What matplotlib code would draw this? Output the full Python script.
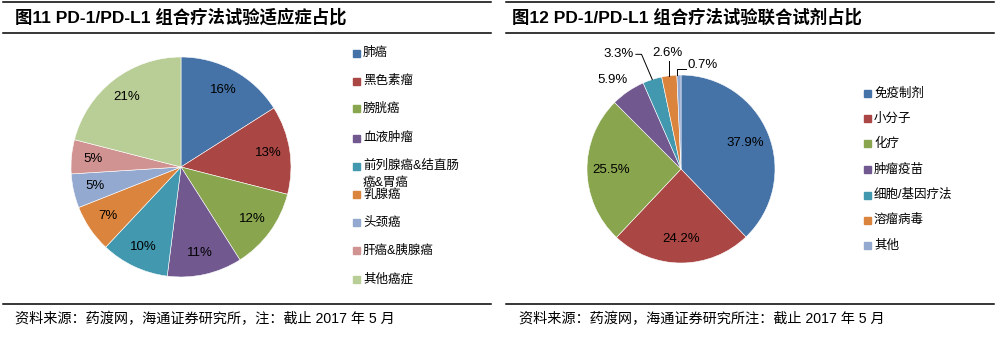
import matplotlib
matplotlib.use("Agg")
import matplotlib.pyplot as plt
import numpy as np
from matplotlib.lines import Line2D
from matplotlib.patches import Rectangle

W, H = 1005, 341

CN = ["Liberation Sans", "Noto Sans CJK SC"]
NUM = ["Liberation Sans"]

# 图11 适应症占比
indications = ["肺癌", "黑色素瘤", "膀胱癌", "血液肿瘤", "前列腺癌&结直肠\n癌&胃癌",
               "乳腺癌", "头颈癌", "肝癌&胰腺癌", "其他癌症"]
indication_pct = [16, 13, 12, 11, 10, 7, 5, 5, 21]

# 图12 联合试剂占比
combos = ["免疫制剂", "小分子", "化疗", "肿瘤疫苗", "细胞/基因疗法", "溶瘤病毒", "其他"]
combo_pct = [37.9, 24.2, 25.5, 5.9, 3.3, 2.6, 0.7]

colors = ["#4572A7", "#AA4643", "#89A54E", "#71588F", "#4198AF",
          "#DB843D", "#93A9CF", "#D19392", "#B9CD96"]


def fx(x):
    return x / W


def fy(y):
    return 1 - y / H


def hline(fig, x0, x1, y):
    fig.add_artist(Line2D([fx(x0), fx(x1)], [fy(y), fy(y)], color="black", lw=1.1))


def pie_axes(fig, cx, cy, r):
    ax = fig.add_axes([fx(cx - r), fy(cy + r), 2 * r / W, 2 * r / H])
    ax.axis("off")
    return ax


def fix_limits(ax):
    # pie() pads the limits to +-1.25, pull them back to the unit circle
    ax.set_xlim(-1, 1)
    ax.set_ylim(-1, 1)
    ax.set_aspect("equal")


def mid_point(wedge, dist):
    ang = np.deg2rad((wedge.theta1 + wedge.theta2) / 2)
    return dist * np.cos(ang), dist * np.sin(ang)


def draw_legend(fig, labels, x, ys, cols):
    for lab, y, c in zip(labels, ys, cols):
        fig.add_artist(Rectangle((fx(x), fy(y + 3.5)), 7 / W, 7 / H, color=c,
                                 transform=fig.transFigure))
        fig.text(fx(x + 10), fy(y), lab, family=CN, fontsize=9, va="center",
                 ha="left")


fig = plt.figure(figsize=(W / 100, H / 100), dpi=100)

# frame lines
for x0, x1 in [(3, 491), (506, 994)]:
    for y in (2, 33, 304):
        hline(fig, x0, x1, y)

fig.text(fx(15), fy(17), "图11 PD-1/PD-L1 组合疗法试验适应症占比", family=CN,
         fontsize=12.5, weight="bold", va="center")
fig.text(fx(512), fy(17), "图12 PD-1/PD-L1 组合疗法试验联合试剂占比", family=CN,
         fontsize=12.5, weight="bold", va="center")

fig.text(fx(15), fy(319), "资料来源：药渡网，海通证券研究所，注：截止 2017 年 5 月",
         family=CN, fontsize=10.2, va="center")
fig.text(fx(519), fy(319), "资料来源：药渡网，海通证券研究所注：截止 2017 年 5 月",
         family=CN, fontsize=10.2, va="center")

# left pie
ax1 = pie_axes(fig, 181, 167, 110)
wedges1, _ = ax1.pie(indication_pct, colors=colors, startangle=90, counterclock=False,
                     radius=1, wedgeprops=dict(edgecolor="white", linewidth=0.4))
fix_limits(ax1)
for w, v in zip(wedges1, indication_pct):
    tx, ty = mid_point(w, 0.8)
    ax1.text(tx, ty, f"{v}%", family=NUM, fontsize=9.5, ha="center", va="center")

left_rows = [53, 81, 109, 138, 166, 194.5, 222.5, 250.5, 279]
draw_legend(fig, [l.split("\n")[0] for l in indications], 353, left_rows, colors)
# second line of the wrapped label
fig.text(fx(363), fy(183), indications[4].split("\n")[1], family=CN, fontsize=9,
         va="center", ha="left")

# right pie
ax2 = pie_axes(fig, 681, 169, 94)
wedges2, _ = ax2.pie(combo_pct, colors=colors[:7], startangle=90, counterclock=False,
                     radius=1, wedgeprops=dict(edgecolor="white", linewidth=0.4))
fix_limits(ax2)
for w, v in zip(wedges2[:3], combo_pct[:3]):
    tx, ty = mid_point(w, 0.74)
    ax2.text(tx, ty, f"{v}%", family=NUM, fontsize=9.5, ha="center", va="center")

# small slices: labels outside, some with leader lines
ax2.text(-0.73, 0.95, f"{combo_pct[3]}%", family=NUM, fontsize=9.5, ha="center",
         va="center")

ex, ey = mid_point(wedges2[4], 1.0)
ax2.plot([ex, -0.42, -0.48], [ey, 1.22, 1.22], color="black", lw=0.7, clip_on=False)
ax2.text(-0.50, 1.22, f"{combo_pct[4]}%", family=NUM, fontsize=9.5, ha="right",
         va="center")

ex, ey = mid_point(wedges2[5], 1.0)
ax2.plot([ex, ex], [ey, 1.15], color="black", lw=0.7, clip_on=False)
ax2.text(-0.14, 1.23, f"{combo_pct[5]}%", family=NUM, fontsize=9.5, ha="center",
         va="center")

ex, ey = mid_point(wedges2[6], 1.0)
ax2.plot([ex - 0.02, ex - 0.02, 0.05], [ey, 1.06, 1.06], color="black", lw=0.7,
         clip_on=False)
ax2.text(0.07, 1.11, f"{combo_pct[6]}%", family=NUM, fontsize=9.5, ha="left",
         va="center")

right_rows = [93.5, 118.5, 143.5, 169.5, 195, 220.5, 245.5]
draw_legend(fig, combos, 864, right_rows, colors[:7])

fig.savefig("out.png", dpi=100)
